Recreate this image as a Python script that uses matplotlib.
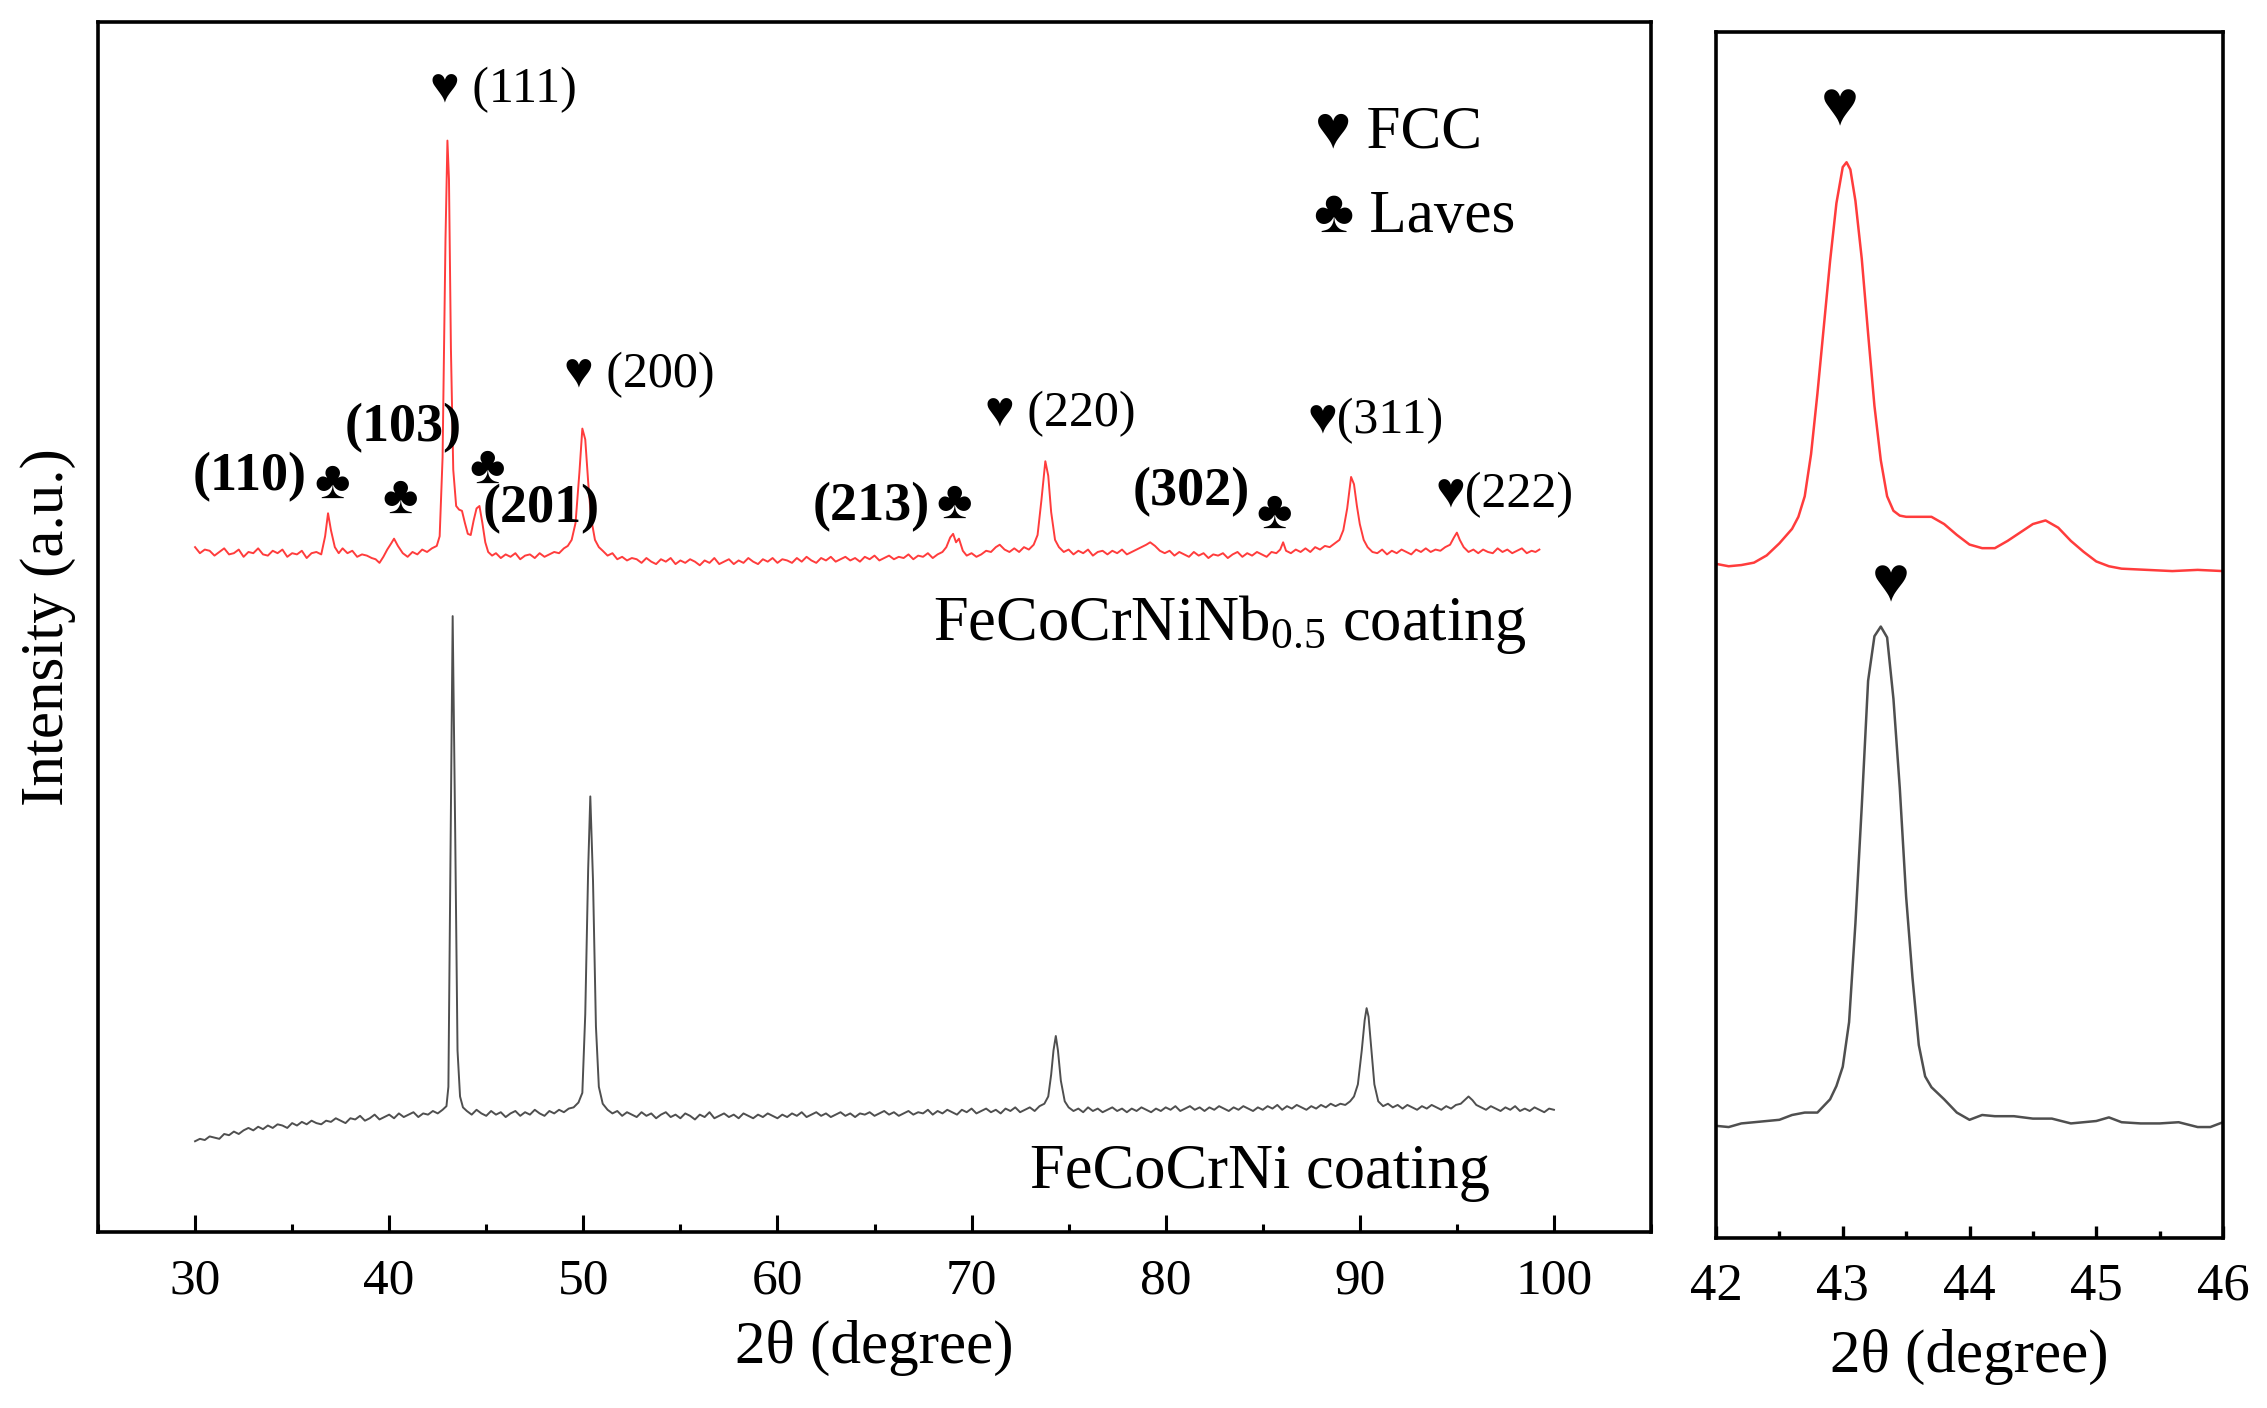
import matplotlib
matplotlib.use('Agg')
import matplotlib.pyplot as plt
from matplotlib.ticker import MultipleLocator

plt.rcParams['font.family'] = ['Liberation Serif', 'DejaVu Sans']
plt.rcParams['mathtext.fontset'] = 'custom'
plt.rcParams['mathtext.rm'] = 'Liberation Serif'
plt.rcParams['mathtext.it'] = 'Liberation Serif:italic'
plt.rcParams['mathtext.bf'] = 'Liberation Serif:bold'

# ---------------- data: 2theta (degree) and intensity (a.u., offset traces) ----------------
nb_x = [30.0, 30.25, 30.5, 30.75, 31.0, 31.25, 31.5, 31.75, 32.0, 32.25, 32.5, 32.75, 33.0, 33.25,
        33.5, 33.75, 34.0, 34.25, 34.5, 34.75, 35.0, 35.25, 35.5, 35.75, 36.0, 36.25, 36.5, 36.7,
        36.85, 37.0, 37.2, 37.4, 37.6, 37.85, 38.1, 38.35, 38.6, 38.85, 39.1, 39.3, 39.5, 39.7,
        39.9, 40.1, 40.25, 40.45, 40.7, 40.95, 41.2, 41.45, 41.7, 41.95, 42.2, 42.45, 42.6, 42.75,
        42.9, 43.0, 43.08, 43.18, 43.3, 43.45, 43.6, 43.75, 43.9, 44.05, 44.2, 44.35, 44.5, 44.65,
        44.8, 44.95, 45.1, 45.3, 45.5, 45.75, 46.0, 46.25, 46.5, 46.75, 47.0, 47.25, 47.5, 47.75,
        48.0, 48.25, 48.5, 48.75, 49.0, 49.2, 49.4, 49.6, 49.8, 49.95, 50.1, 50.25, 50.4, 50.6,
        50.8, 51.0, 51.25, 51.5, 51.75, 52.0, 52.25, 52.5, 52.75, 53.0, 53.25, 53.5, 53.75, 54.0,
        54.25, 54.5, 54.75, 55.0, 55.25, 55.5, 55.75, 56.0, 56.25, 56.5, 56.75, 57.0, 57.25, 57.5,
        57.75, 58.0, 58.25, 58.5, 58.75, 59.0, 59.25, 59.5, 59.75, 60.0, 60.25, 60.5, 60.75, 61.0,
        61.25, 61.5, 61.75, 62.0, 62.25, 62.5, 62.75, 63.0, 63.25, 63.5, 63.75, 64.0, 64.25, 64.5,
        64.75, 65.0, 65.25, 65.5, 65.75, 66.0, 66.25, 66.5, 66.75, 67.0, 67.25, 67.5, 67.75, 68.0,
        68.25, 68.5, 68.7, 68.9, 69.05, 69.2, 69.35, 69.55, 69.75, 70.0, 70.25, 70.5, 70.75, 71.0,
        71.25, 71.45, 71.7, 71.95, 72.2, 72.45, 72.7, 72.95, 73.2, 73.4, 73.6, 73.8, 73.95, 74.1,
        74.3, 74.5, 74.75, 75.0, 75.25, 75.5, 75.75, 76.0, 76.25, 76.5, 76.75, 77.0, 77.25, 77.5,
        77.75, 78.0, 78.25, 78.5, 78.75, 79.0, 79.2, 79.45, 79.7, 79.95, 80.2, 80.45, 80.7, 80.95,
        81.2, 81.45, 81.7, 81.95, 82.2, 82.45, 82.7, 82.95, 83.2, 83.45, 83.7, 83.95, 84.2, 84.45,
        84.7, 84.95, 85.2, 85.45, 85.7, 85.9, 86.05, 86.2, 86.45, 86.7, 86.95, 87.2, 87.45, 87.7,
        87.95, 88.2, 88.45, 88.7, 88.95, 89.15, 89.35, 89.55, 89.7, 89.85, 90.0, 90.2, 90.4, 90.65,
        90.9, 91.15, 91.4, 91.65, 91.9, 92.15, 92.4, 92.65, 92.9, 93.15, 93.4, 93.65, 93.9, 94.15,
        94.4, 94.65, 94.85, 95.0, 95.15, 95.35, 95.6, 95.85, 96.1, 96.35, 96.6, 96.85, 97.1, 97.35,
        97.6, 97.85, 98.1, 98.35, 98.6, 98.85, 99.05, 99.25]
nb_y = [566, 561, 564, 563, 559, 562, 565, 560, 561, 564, 558, 562, 561, 565,
        560, 559, 563, 561, 564, 558, 561, 560, 563, 557, 561, 562, 560, 575,
        594, 580, 566, 561, 565, 561, 563, 558, 560, 559, 557, 556, 553, 558,
        564, 569, 573, 567, 561, 558, 562, 560, 564, 562, 565, 567, 575, 640,
        820, 902, 870, 730, 630, 600, 597, 596, 586, 577, 576, 588, 598, 600,
        586, 570, 562, 559, 561, 557, 560, 558, 561, 556, 559, 560, 557, 561,
        558, 560, 562, 561, 565, 567, 572, 586, 628, 664, 655, 620, 590, 572,
        566, 563, 559, 561, 556, 558, 555, 557, 556, 553, 557, 554, 552, 556,
        554, 557, 552, 555, 553, 556, 554, 551, 555, 553, 557, 552, 554, 556,
        552, 555, 553, 557, 554, 552, 556, 554, 557, 553, 556, 555, 553, 557,
        554, 558, 555, 553, 557, 555, 558, 554, 556, 558, 555, 557, 554, 558,
        556, 559, 555, 557, 559, 556, 558, 557, 560, 556, 559, 558, 561, 557,
        560, 562, 566, 574, 577, 570, 573, 563, 559, 561, 558, 560, 563, 562,
        566, 568, 564, 562, 565, 562, 566, 564, 568, 576, 605, 637, 625, 595,
        572, 566, 562, 564, 560, 563, 561, 564, 559, 562, 563, 560, 563, 561,
        564, 560, 562, 564, 566, 568, 570, 567, 563, 561, 563, 559, 562, 560,
        558, 562, 559, 561, 557, 560, 559, 561, 557, 560, 562, 558, 561, 559,
        562, 560, 558, 562, 561, 564, 570, 563, 561, 564, 562, 565, 562, 566,
        564, 567, 566, 569, 572, 580, 598, 624, 618, 600, 585, 572, 566, 562,
        561, 564, 560, 563, 561, 564, 562, 560, 564, 562, 565, 562, 564, 563,
        566, 568, 574, 578, 572, 566, 562, 564, 561, 564, 562, 561, 565, 562,
        564, 561, 563, 565, 561, 563, 562, 564]

base_x = [30.0, 30.25, 30.5, 30.75, 31.0, 31.25, 31.5, 31.75, 32.0, 32.25, 32.5, 32.75, 33.0, 33.25,
          33.5, 33.75, 34.0, 34.25, 34.5, 34.75, 35.0, 35.25, 35.5, 35.75, 36.0, 36.25, 36.5, 36.75,
          37.0, 37.25, 37.5, 37.75, 38.0, 38.25, 38.5, 38.75, 39.0, 39.25, 39.5, 39.75, 40.0, 40.25,
          40.5, 40.75, 41.0, 41.25, 41.5, 41.75, 42.0, 42.25, 42.5, 42.75, 42.95, 43.05, 43.15, 43.27,
          43.4, 43.52, 43.65, 43.8, 44.0, 44.25, 44.5, 44.75, 45.0, 45.25, 45.5, 45.75, 46.0, 46.25,
          46.5, 46.75, 47.0, 47.25, 47.5, 47.75, 48.0, 48.25, 48.5, 48.75, 49.0, 49.25, 49.5, 49.75,
          49.95, 50.1, 50.25, 50.36, 50.5, 50.65, 50.8, 51.0, 51.25, 51.5, 51.75, 52.0, 52.25, 52.5,
          52.75, 53.0, 53.25, 53.5, 53.75, 54.0, 54.25, 54.5, 54.75, 55.0, 55.25, 55.5, 55.75, 56.0,
          56.25, 56.5, 56.75, 57.0, 57.25, 57.5, 57.75, 58.0, 58.25, 58.5, 58.75, 59.0, 59.25, 59.5,
          59.75, 60.0, 60.25, 60.5, 60.75, 61.0, 61.25, 61.5, 61.75, 62.0, 62.25, 62.5, 62.75, 63.0,
          63.25, 63.5, 63.75, 64.0, 64.25, 64.5, 64.75, 65.0, 65.25, 65.5, 65.75, 66.0, 66.25, 66.5,
          66.75, 67.0, 67.25, 67.5, 67.75, 68.0, 68.25, 68.5, 68.75, 69.0, 69.25, 69.5, 69.75, 70.0,
          70.25, 70.5, 70.75, 71.0, 71.25, 71.5, 71.75, 72.0, 72.25, 72.5, 72.75, 73.0, 73.25, 73.5,
          73.75, 73.95, 74.1, 74.22, 74.34, 74.45, 74.6, 74.8, 75.0, 75.25, 75.5, 75.75, 76.0, 76.25,
          76.5, 76.75, 77.0, 77.25, 77.5, 77.75, 78.0, 78.25, 78.5, 78.75, 79.0, 79.25, 79.5, 79.75,
          80.0, 80.25, 80.5, 80.75, 81.0, 81.25, 81.5, 81.75, 82.0, 82.25, 82.5, 82.75, 83.0, 83.25,
          83.5, 83.75, 84.0, 84.25, 84.5, 84.75, 85.0, 85.25, 85.5, 85.75, 86.0, 86.25, 86.5, 86.75,
          87.0, 87.25, 87.5, 87.75, 88.0, 88.25, 88.5, 88.75, 89.0, 89.25, 89.5, 89.7, 89.9, 90.1,
          90.25, 90.35, 90.45, 90.6, 90.75, 90.95, 91.2, 91.45, 91.7, 91.95, 92.2, 92.45, 92.7, 92.95,
          93.2, 93.45, 93.7, 93.95, 94.2, 94.45, 94.7, 94.95, 95.2, 95.4, 95.6, 95.8, 96.0, 96.25,
          96.5, 96.75, 97.0, 97.25, 97.5, 97.75, 98.0, 98.25, 98.5, 98.75, 99.0, 99.25, 99.5, 99.75,
          100.0]
base_y = [75, 77, 76, 79, 78, 77, 81, 80, 83, 81, 84, 86, 84, 87,
          85, 88, 86, 89, 88, 86, 90, 88, 91, 89, 92, 90, 89, 92,
          91, 94, 92, 90, 94, 93, 96, 92, 94, 97, 93, 95, 97, 94,
          98, 95, 97, 99, 95, 98, 97, 100, 98, 101, 104, 120, 300, 509,
          330, 150, 112, 103, 100, 97, 101, 98, 96, 100, 97, 99, 95, 98,
          100, 96, 99, 97, 101, 98, 96, 100, 98, 101, 99, 102, 103, 107,
          115, 180, 300, 360, 290, 170, 120, 106, 101, 98, 100, 96, 99, 97,
          95, 99, 96, 98, 94, 97, 99, 95, 97, 94, 98, 96, 93, 97,
          95, 99, 94, 96, 98, 95, 97, 94, 98, 96, 94, 97, 95, 98,
          96, 94, 97, 95, 98, 96, 99, 95, 97, 99, 96, 98, 95, 97,
          99, 96, 98, 95, 98, 97, 99, 96, 98, 100, 97, 99, 96, 98,
          100, 97, 99, 98, 101, 97, 100, 98, 101, 99, 97, 101, 99, 102,
          98, 100, 102, 99, 101, 98, 102, 100, 103, 99, 101, 103, 100, 104,
          106, 112, 130, 150, 162, 150, 125, 108, 103, 100, 102, 99, 103, 100,
          102, 99, 101, 103, 100, 102, 99, 102, 100, 103, 101, 99, 102, 100,
          103, 101, 104, 100, 102, 104, 101, 103, 100, 103, 101, 104, 102, 100,
          103, 101, 104, 102, 100, 103, 101, 104, 102, 105, 101, 104, 102, 105,
          103, 101, 104, 102, 105, 103, 106, 104, 106, 105, 108, 112, 122, 150,
          175, 185, 178, 150, 122, 108, 104, 106, 103, 105, 102, 105, 103, 101,
          104, 102, 105, 103, 101, 104, 102, 105, 106, 109, 112, 109, 105, 103,
          101, 104, 102, 100, 103, 101, 104, 100, 102, 100, 103, 101, 99, 102,
          101]

# enlarged region 42-46 degree
zoom_nb_x = [42.0, 42.1, 42.2, 42.3, 42.4, 42.5, 42.6, 42.65, 42.7, 42.75, 42.8, 42.85, 42.9, 42.95,
             43.0, 43.03, 43.06, 43.1, 43.15, 43.2, 43.25, 43.3, 43.35, 43.4, 43.45, 43.5, 43.6,
             43.7, 43.8, 43.9, 44.0, 44.1, 44.2, 44.3, 44.4, 44.5, 44.6, 44.7, 44.8, 44.9, 45.0,
             45.1, 45.2, 45.4, 45.6, 45.8, 46.0]
zoom_nb_y = [559, 557, 558, 560, 566, 576, 588, 598, 615, 650, 700, 755, 810, 858,
             888, 892, 886, 860, 812, 750, 690, 645, 615, 603, 599, 598, 598,
             598, 592, 583, 575, 572, 572, 578, 585, 592, 595, 589, 578, 569, 561,
             557, 555, 554, 553, 554, 553]
zoom_base_x = [42.0, 42.1, 42.2, 42.3, 42.4, 42.5, 42.6, 42.7, 42.8, 42.9, 42.95, 43.0, 43.05, 43.1,
               43.15, 43.2, 43.25, 43.3, 43.35, 43.4, 43.45, 43.5, 43.55, 43.6, 43.65, 43.7, 43.8,
               43.9, 44.0, 44.1, 44.2, 44.35, 44.5, 44.65, 44.8, 45.0, 45.1, 45.2, 45.35, 45.5,
               45.65, 45.8, 45.9, 46.0]
zoom_base_y = [93, 92, 95, 96, 97, 98, 102, 104, 104, 115, 126, 142, 179, 261,
               358, 462, 499, 507, 498, 447, 373, 283, 216, 160, 134, 125, 115,
               104, 98, 102, 101, 101, 99, 99, 95, 97, 100, 96, 95, 95,
               96, 92, 92, 96]

main_ticks = [30, 40, 50, 60, 70, 80, 90, 100]
zoom_ticks = [42, 43, 44, 45, 46]

RED = '#FF3C3C'
GRAY = '#4F4F4F'

W, H = 2267, 1408
fig = plt.figure(figsize=(W / 100, H / 100), dpi=100)
ax = fig.add_axes([98 / W, 1 - 1232 / H, (1651 - 98) / W, (1232 - 22) / H])
ax2 = fig.add_axes([1716 / W, 1 - 1238 / H, (2223 - 1716) / W, (1238 - 32) / H])

ax.plot(nb_x, nb_y, color=RED, lw=1.4)
ax.plot(base_x, base_y, color=GRAY, lw=1.4)
ax.set_xlim(25, 105)
ax.set_ylim(0, 1000)
ax.set_xticks(main_ticks)
ax.xaxis.set_minor_locator(MultipleLocator(5))
ax.set_yticks([])
ax.tick_params(axis='x', which='major', direction='in', length=12, width=2.2,
               labelsize=37, pad=19, top=False)
ax.tick_params(axis='x', which='minor', direction='in', length=6, width=2.2, top=False)
for s in ax.spines.values():
    s.set_linewidth(2.6)
ax.set_xlabel('2θ (degree)', fontsize=44, labelpad=11)
ax.set_ylabel('Intensity (a.u.)', fontsize=44, labelpad=16)

# annotations
T = dict(va='center', ha='left', fontsize=36)
B = dict(va='center', ha='left', fontsize=39, fontweight='bold')
C = dict(va='center', ha='center', fontsize=39)
ax.text(42.1, 944, '♥ (111)', **T)
ax.text(49.0, 708, '♥ (200)', **T)
ax.text(70.7, 676, '♥ (220)', **T)
ax.text(87.3, 670, '♥(311)', **T)
ax.text(93.9, 609, '♥(222)', **T)
ax.text(29.9, 624, '(110)', **B)
ax.text(37.7, 664, '(103)', **B)
ax.text(44.8, 597, '(201)', **B)
ax.text(61.8, 599, '(213)', **B)
ax.text(78.3, 611, '(302)', **B)
ax.text(37.05, 618, '♣', **C)
ax.text(40.55, 605, '♣', **C)
ax.text(45.05, 630, '♣', **C)
ax.text(69.1, 601, '♣', **C)
ax.text(85.6, 593, '♣', **C)
ax.text(87.7, 909, '♥ FCC', va='center', ha='left', fontsize=44)
ax.text(87.65, 839, '♣ Laves', va='center', ha='left', fontsize=44)
ax.text(68.0, 489, 'FeCoCrNiNb$_{0.5}$ coating', va='baseline', ha='left', fontsize=45)
ax.text(73.0, 36, 'FeCoCrNi coating', va='baseline', ha='left', fontsize=45)

# enlarged panel
ax2.plot(zoom_nb_x, zoom_nb_y, color=RED, lw=1.8)
ax2.plot(zoom_base_x, zoom_base_y, color=GRAY, lw=1.8)
ax2.set_xlim(42, 46)
ax2.set_ylim(0, 1000)
ax2.set_xticks(zoom_ticks)
ax2.xaxis.set_minor_locator(MultipleLocator(0.5))
ax2.set_yticks([])
ax2.tick_params(axis='x', which='major', direction='in', length=9, width=2.4,
                labelsize=38, pad=18, top=False)
ax2.tick_params(axis='x', which='minor', direction='in', length=5, width=2.4, top=False)
for s in ax2.spines.values():
    s.set_linewidth(2.6)
ax2.set_xlabel('2θ (degree)', fontsize=44, labelpad=13)
ax2.text(42.98, 935, '♥', va='center', ha='center', fontsize=46)
ax2.text(43.375, 540, '♥', va='center', ha='center', fontsize=46)

fig.savefig('out.png', dpi=100)
